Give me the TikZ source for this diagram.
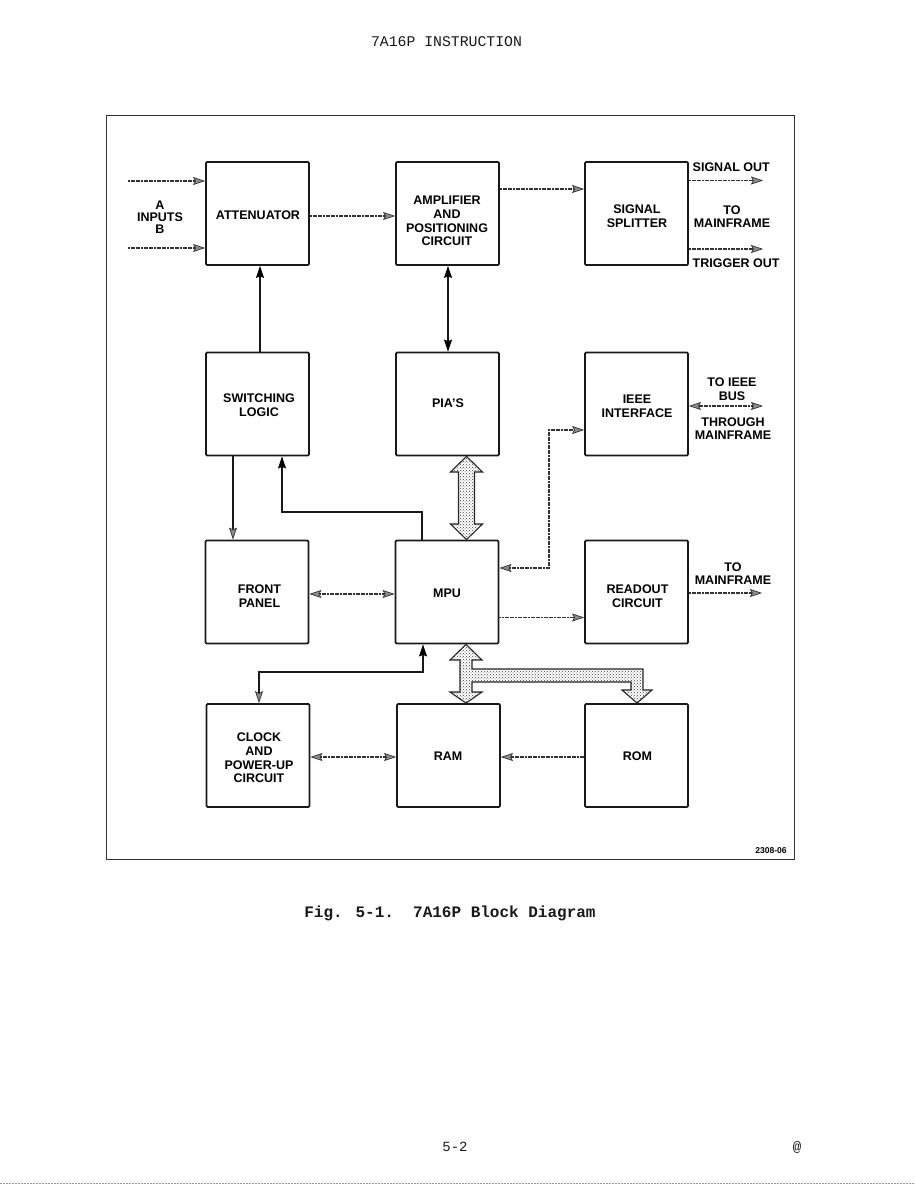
\documentclass[tikz,border=0pt]{standalone}
\usepackage{fontspec}
\setmainfont{Liberation Sans}
\newfontfamily\monof{Liberation Mono}
\usetikzlibrary{arrows.meta,patterns,calc}
\tikzset{
  OT/.tip={Stealth[length=12pt,width=8pt,inset=2pt,color=black!80,fill=black!45,line width=0.7pt]},
  ST/.tip={Stealth[length=12pt,width=8pt,inset=1.5pt,color=black,fill=black]},
  box/.style={draw=black!90,line width=1.8pt,rounded corners=1.2pt,minimum width=103pt,minimum height=103pt,inner sep=0pt},
  lbl/.style={font=\bfseries\fontsize{12.5}{13.7}\selectfont,align=center,inner sep=0pt,text=black},
  conn/.style={draw=black!80,line width=1.1pt,dash pattern=on 2pt off 0.6pt},
  solidc/.style={draw=black!90,line width=1.1pt},
  bus/.style={draw=black!85,line width=1.1pt,preaction={fill=white},pattern=crosshatch dots,pattern color=black!75,line join=miter},
  frame/.style={draw=black!80,line width=1pt},
  mono/.style={font=\monof\fontsize{14.8}{16}\selectfont,inner sep=0pt,text=black!90}
}
\begin{document}
\begin{tikzpicture}[x=1pt,y=-1pt]
\useasboundingbox (0,0) rectangle (914,1186);
% header and caption
\node[mono] (hdr) at (446.5,42) {7A16P INSTRUCTION};
\node[mono,font=\monof\bfseries\fontsize{16}{18}\selectfont] (cap) at (450,913) {Fig. 5-1.\ \ 7A16P Block Diagram};
\node[mono,font=\monof\fontsize{14}{16}\selectfont] (pg) at (455,1147) {5-2};
\node[mono,font=\monof\fontsize{14}{16}\selectfont] (at) at (797,1147) {@};
\draw[black!40,line width=0.6pt,dash pattern=on 2pt off 1pt] (0,1183) -- (914,1183);
% frame
\draw[frame] (106,115) rectangle (794,859);
\node[lbl,font=\bfseries\fontsize{8.5}{10}\selectfont] (fignum) at (771,851) {2308-06};
% blocks
\node[box] (att)  at (257.5,213.5) {};
\node[box] (amp)  at (447.5,213.5) {};
\node[box] (spl)  at (636.5,213.5) {};
\node[box] (sw)   at (257.5,404) {};
\node[box] (pia)  at (447.5,404) {};
\node[box] (ieee) at (636.5,404) {};
\node[box] (fp)   at (257,592) {};
\node[box] (mpu)  at (447,592) {};
\node[box] (ro)   at (636.5,592) {};
\node[box] (clk)  at (258,755.5) {};
\node[box] (ram)  at (448.5,755.5) {};
\node[box] (rom)  at (636.5,755.5) {};
% block texts
\node[lbl] (att-t)  at (258,215.5) {ATTENUATOR};
\node[lbl] (amp-t)  at (447,221) {AMPLIFIER\\AND\\POSITIONING\\CIRCUIT};
\node[lbl] (spl-t)  at (637,216.5) {SIGNAL\\SPLITTER};
\node[lbl] (sw-t)   at (259,405) {SWITCHING\\LOGIC};
\node[lbl] (pia-t)  at (448,403) {PIA'S};
\node[lbl] (ieee-t) at (637,406.5) {IEEE\\INTERFACE};
\node[lbl] (fp-t)   at (259.5,596) {FRONT\\PANEL};
\node[lbl] (mpu-t)  at (447,593) {MPU};
\node[lbl] (ro-t)   at (637.5,596) {READOUT\\CIRCUIT};
\node[lbl] (clk-t)  at (259,758) {CLOCK\\AND\\POWER-UP\\CIRCUIT};
\node[lbl] (ram-t)  at (448,756) {RAM};
\node[lbl] (rom-t)  at (637.5,756) {ROM};
% side texts
\node[lbl,font=\bfseries\fontsize{12.5}{12.2}\selectfont] (inp) at (160,217) {A\\INPUTS\\B};
\node[lbl,anchor=west] (sigo) at (692.5,167) {SIGNAL OUT};
\node[lbl] (tomf1) at (732,216.5) {TO\\MAINFRAME};
\node[lbl,anchor=west] (trgo) at (692.5,263) {TRIGGER OUT};
\node[lbl] (toieee) at (732,389.5) {TO IEEE\\BUS};
\node[lbl] (thru) at (733,428.5) {THROUGH\\MAINFRAME};
\node[lbl] (tomf2) at (733,573.5) {TO\\MAINFRAME};
% connectors
\coordinate (inA) at (128,181);
\draw[conn,-OT] (inA) -- (inA -| att.west);
\coordinate (inB) at (128,248);
\draw[conn,-OT] (inB) -- (inB -| att.west);
\coordinate (r216) at (0,216);
\draw[conn,-OT] (att.east |- r216) -- (amp.west |- r216);
\coordinate (r189) at (0,189);
\draw[conn,-OT] (amp.east |- r189) -- (spl.west |- r189);
\coordinate (sigout) at (763,180.5);
\draw[conn,-OT] (spl.east |- sigout) -- (sigout);
\coordinate (trigout) at (763,249);
\draw[conn,-OT] (spl.east |- trigout) -- (trigout);
\coordinate (c260) at (260,0);
\draw[solidc,-ST] (sw.north -| c260) -- (att.south -| c260);
\coordinate (c448) at (448,0);
\draw[solidc,ST-ST] (pia.north -| c448) -- (amp.south -| c448);
\coordinate (c233) at (233,0);
\draw[solidc,-OT] (sw.south -| c233) -- (fp.north -| c233);
\coordinate (k1) at (422,512);
\coordinate (k2) at (282,512);
\draw[solidc,-ST] (mpu.north -| k1) -- (k1) -- (k2) -- (sw.south -| k2);
\coordinate (j1) at (549,568);
\coordinate (j2) at (549,430);
\draw[conn,OT-OT] (mpu.east |- j1) -- (j1) -- (j2) -- (ieee.west |- j2);
\coordinate (ieeebus) at (763,406);
\draw[conn,OT-OT] (ieee.east |- ieeebus) -- (ieeebus);
\coordinate (r594) at (0,594);
\draw[conn,OT-OT] (fp.east |- r594) -- (mpu.west |- r594);
\coordinate (r617) at (0,617.5);
\draw[conn,-OT] (mpu.east |- r617) -- (ro.west |- r617);
\coordinate (roout) at (762,593);
\draw[conn,-OT] (ro.east |- roout) -- (roout);
\coordinate (m1) at (423,672);
\coordinate (m2) at (259,672);
\draw[solidc,ST-OT] (mpu.south -| m1) -- (m1) -- (m2) -- (clk.north -| m2);
\coordinate (r757) at (0,757);
\draw[conn,OT-OT] (clk.east |- r757) -- (ram.west |- r757);
\draw[conn,-OT] (rom.west |- r757) -- (ram.east |- r757);
% buses
\coordinate (bx) at (466.5,0);
\draw[bus] (pia.south -| bx) -- (482.5,472) -- (474.5,472) -- (474.5,524) -- (482.5,524) -- (mpu.north -| bx) -- (450.5,524) -- (458.5,524) -- (458.5,472) -- (450.5,472) -- cycle;
\coordinate (bx2) at (466,0);
\coordinate (bx3) at (637,0);
\draw[bus] (mpu.south -| bx2) -- (482,660) -- (472,660) -- (472,669) -- (643,669) -- (643,690) -- (652,690) -- (rom.north -| bx3) -- (622,690) -- (631,690) -- (631,682) -- (472,682) -- (472,692) -- (482,692) -- (ram.north -| bx2) -- (450,692) -- (460,692) -- (460,660) -- (450,660) -- cycle;
\end{tikzpicture}
\end{document}
